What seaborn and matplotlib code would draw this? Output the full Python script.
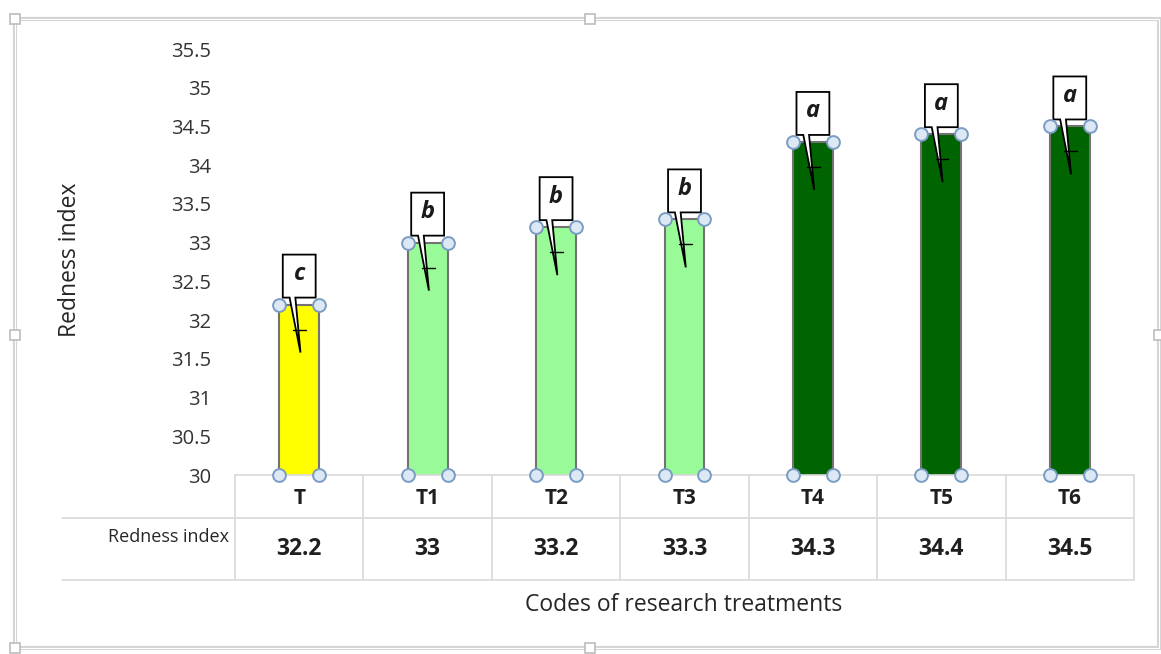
import numpy as np
import matplotlib.pyplot as plt
import matplotlib.patches as mpatches
from matplotlib.transforms import blended_transform_factory
import seaborn as sns
import pandas as pd

# data
treatments = ['T', 'T1', 'T2', 'T3', 'T4', 'T5', 'T6']
redness = [32.2, 33.0, 33.2, 33.3, 34.3, 34.4, 34.5]
value_labels = ['32.2', '33', '33.2', '33.3', '34.3', '34.4', '34.5']
letters = ['c', 'b', 'b', 'b', 'a', 'a', 'a']
bar_colors = ['#FFFF00', '#98FB98', '#98FB98', '#98FB98', '#006400', '#006400', '#006400']
y_ticks = [30, 30.5, 31, 31.5, 32, 32.5, 33, 33.5, 34, 34.5, 35, 35.5]

sns.set_theme(style="white")
plt.rcParams['font.family'] = ['Open Sans', 'DejaVu Sans']

W, H = 1161, 654
fig = plt.figure(figsize=(W / 100, H / 100), dpi=100)

# plot area in pixels: x 235..1134, y 49..475
px_l, px_r, py_t, py_b = 235, 1134, 49, 475
ax = fig.add_axes([px_l / W, (H - py_b) / H, (px_r - px_l) / W, (py_b - py_t) / H])

df = pd.DataFrame({'Treatment': treatments, 'Redness': redness})
sns.barplot(data=df, x='Treatment', y='Redness', hue='Treatment',
            palette=bar_colors, saturation=1, width=0.31, edgecolor='#737373',
            linewidth=1.5, legend=False, ax=ax, zorder=2)

ax.set_xlim(-0.5, len(treatments) - 0.5)
ax.set_ylim(30, 35.5)
ax.set_yticks(y_ticks)
ax.set_yticklabels([f'{t:g}' for t in y_ticks], fontsize=14.5, color='#333333')
ax.tick_params(axis='y', length=0, pad=17)
ax.tick_params(axis='x', bottom=False, labelbottom=False)
ax.set_xlabel('')
ax.set_ylabel('')
for s in ax.spines.values():
    s.set_visible(False)


def ay(py):
    return (py_b - py) / (py_b - py_t)


def axx(px):
    return (px - px_l) / (px_r - px_l)


trans = blended_transform_factory(ax.transData, ax.transAxes)
grid_c = '#d9d9d9'

# data table under the plot
ax.plot([0, 1], [0, 0], transform=ax.transAxes, color=grid_c, lw=1.2, clip_on=False)
for yy in (ay(518), ay(580)):
    ax.plot([axx(62), 1], [yy, yy], transform=ax.transAxes, color=grid_c, lw=1.2, clip_on=False)
for k in range(len(treatments) + 1):
    ax.plot([k - 0.5, k - 0.5], [0, ay(580)], transform=trans, color=grid_c, lw=1.2, clip_on=False)
for i, (t, v) in enumerate(zip(treatments, value_labels)):
    ax.text(i, ay(498), t, transform=trans, ha='center', va='center',
            fontsize=15, fontweight='bold', color='#1f1f1f')
    ax.text(i, ay(549), v, transform=trans, ha='center', va='center',
            fontsize=16.5, fontweight='bold', color='#1f1f1f')
ax.text(axx(229), ay(537), 'Redness index', transform=ax.transAxes, ha='right', va='center',
        fontsize=13, color='#262626')

# callouts with significance letters
upp = (py_b - py_t) / 5.5  # pixels per unit
for i, (v, lt) in enumerate(zip(redness, letters)):
    b = v + 7 / upp
    t = v + 50 / upp
    hw = 0.128
    verts = [(i - hw, b), (i - 0.075, b), (i + 0.01, v - 48 / upp), (i - 0.03, b),
             (i + hw, b), (i + hw, t), (i - hw, t)]
    ax.add_patch(mpatches.Polygon(verts, closed=True, facecolor='white',
                                  edgecolor='black', lw=1.3, zorder=4, clip_on=False))
    ax.plot([i - 0.045, i + 0.055], [v - 25 / upp, v - 25 / upp], color='black', lw=1, zorder=5)
    ax.text(i, (b + t) / 2 + 2 / upp, lt, ha='center', va='center', fontsize=17,
            fontweight='bold', fontstyle='italic', color='#1a1a1a', zorder=6)

# selection handles at bar corners
xs = np.arange(len(treatments))
for dx in (-0.155, 0.155):
    ax.scatter(xs + dx, redness, s=85, facecolor='#dce8f4', edgecolor='#7a9cc4',
               linewidth=1.4, zorder=7, clip_on=False)
    ax.scatter(xs + dx, [30] * len(xs), s=85, facecolor='#dce8f4', edgecolor='#7a9cc4',
               linewidth=1.4, zorder=7, clip_on=False)

# axis titles
fig.text(70 / W, 1 - 260 / H, 'Redness index', rotation=90, ha='center', va='center',
         fontsize=16.5, color='#262626')
fig.text(684 / W, 1 - 605 / H, 'Codes of research treatments', ha='center', va='center',
         fontsize=16.5, color='#262626')

# outer chart frame with handles
fig.patches.append(mpatches.Rectangle((15 / W, 1 - 648 / H), (1159 - 15) / W, (648 - 19) / H,
                                      transform=fig.transFigure, fill=False,
                                      edgecolor='#d4d4d4', lw=3))
fig.patches.append(mpatches.Rectangle((15 / W, 1 - 648 / H), (1159 - 15) / W, (648 - 19) / H,
                                      transform=fig.transFigure, fill=False,
                                      edgecolor='white', lw=0.8))
for hx, hy in [(15, 19), (590, 19), (15, 335), (15, 648), (590, 648), (1159, 335)]:
    fig.patches.append(mpatches.Rectangle(((hx - 5) / W, 1 - (hy + 5) / H), 10 / W, 10 / H,
                                          transform=fig.transFigure, facecolor='white',
                                          edgecolor='#bcbcbc', lw=1.2))

fig.savefig('out.png', dpi=100)
